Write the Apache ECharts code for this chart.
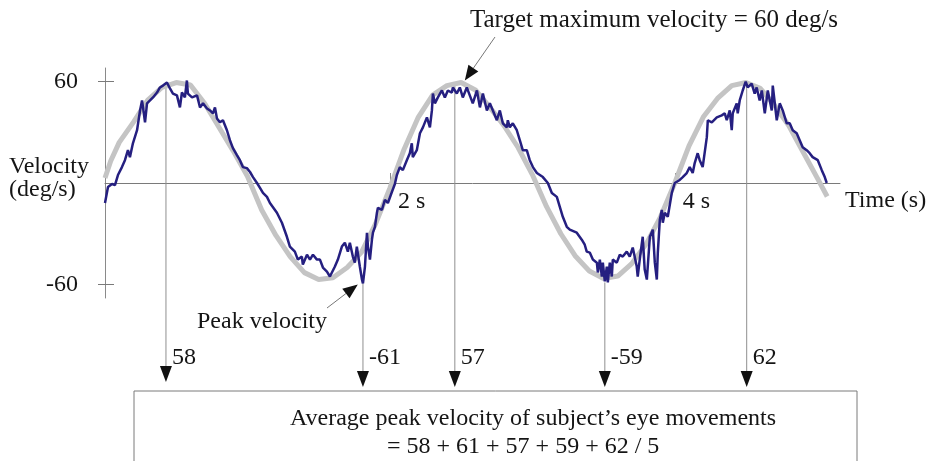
<!DOCTYPE html>
<html>
<head>
<meta charset="utf-8">
<script src="https://cdn.jsdelivr.net/npm/echarts@6/dist/echarts.min.js"></script>
<style>
  html, body { margin: 0; padding: 0; background: #fff; }
  #chart { width: 928px; height: 461px; }
</style>
</head>
<body>
<div id="chart"></div>
<script>
// target (gray) sine, read every 0.1 s
const targetTime = [0, 0.04, 0.1, 0.2, 0.3, 0.4, 0.5, 0.6, 0.7, 0.8, 0.9,
  1.0, 1.1, 1.2, 1.3, 1.4, 1.5, 1.6, 1.7, 1.8, 1.9,
  2.0, 2.1, 2.2, 2.3, 2.4, 2.5, 2.6, 2.7, 2.8, 2.9,
  3.0, 3.1, 3.2, 3.3, 3.4, 3.5, 3.6, 3.7, 3.8, 3.9,
  4.0, 4.1, 4.2, 4.3, 4.4, 4.5, 4.6, 4.7, 4.8, 4.9, 5.0, 5.07];
const targetVelocity = [3, 13, 24, 36, 49, 56.5, 59.4, 58, 47, 33, 19,
  4, -16, -31, -43.5, -53, -57, -56, -50, -41, -24,
  -3, 20, 39, 52, 57.6, 59.4, 55, 45, 34, 21,
  5, -14, -30, -43, -52, -56.5, -55, -47.5, -36, -20,
  0, 22, 39, 50, 57.6, 59.4, 56, 46, 34, 18.5, 3, -8];

// subject's eye velocity (blue trace)
const eyeTime = [
  0, 0.021, 0.049, 0.070, 0.091, 0.119, 0.140, 0.161, 0.175, 0.196,
  0.225, 0.246, 0.260, 0.267, 0.281, 0.295, 0.316, 0.337, 0.365, 0.386,
  0.407, 0.435, 0.456, 0.477, 0.505, 0.526, 0.540, 0.561, 0.575, 0.582,
  0.611, 0.646, 0.667, 0.688, 0.716, 0.737, 0.758, 0.772, 0.786, 0.807,
  0.828, 0.856, 0.877, 0.898, 0.926, 0.947, 0.968, 0.996, 1.018, 1.039,
  1.067, 1.088, 1.109, 1.137, 1.158, 1.207, 1.242, 1.277, 1.298, 1.333,
  1.354, 1.382, 1.389, 1.418, 1.439, 1.460, 1.488, 1.509, 1.530, 1.558,
  1.579, 1.593, 1.614, 1.635, 1.663, 1.684, 1.705, 1.719, 1.740, 1.754,
  1.768, 1.789, 1.804, 1.811, 1.825, 1.839, 1.846, 1.860, 1.874, 1.881,
  1.895, 1.909, 1.916, 1.944, 1.965, 1.986, 2.014, 2.035, 2.049, 2.070,
  2.091, 2.119, 2.140, 2.154, 2.161, 2.189, 2.211, 2.232, 2.260, 2.281,
  2.295, 2.302, 2.316, 2.337, 2.365, 2.386, 2.407, 2.435, 2.442, 2.470,
  2.491, 2.512, 2.540, 2.561, 2.582, 2.611, 2.632, 2.653, 2.681, 2.702,
  2.723, 2.751, 2.772, 2.793, 2.821, 2.828, 2.842, 2.863, 2.891, 2.912,
  2.933, 2.961, 2.982, 3.004, 3.032, 3.074, 3.109, 3.137, 3.172, 3.193,
  3.214, 3.242, 3.263, 3.312, 3.347, 3.368, 3.382, 3.404, 3.425, 3.453,
  3.460, 3.474, 3.488, 3.495, 3.509, 3.523, 3.530, 3.544, 3.558, 3.565,
  3.593, 3.614, 3.635, 3.663, 3.684, 3.705, 3.733, 3.740, 3.754, 3.775,
  3.789, 3.804, 3.825, 3.846, 3.860, 3.874, 3.881, 3.895, 3.909, 3.916,
  3.930, 3.951, 3.979, 4.000, 4.035, 4.056, 4.084, 4.105, 4.126, 4.140,
  4.161, 4.175, 4.196, 4.225, 4.232, 4.260, 4.295, 4.330, 4.351, 4.365,
  4.386, 4.400, 4.407, 4.435, 4.442, 4.456, 4.477, 4.498, 4.512, 4.540,
  4.561, 4.575, 4.596, 4.611, 4.632, 4.653, 4.681, 4.688, 4.716, 4.737,
  4.758, 4.786, 4.807, 4.828, 4.856, 4.877, 4.898, 4.926, 4.947, 4.968,
  5.004, 5.032, 5.053, 5.067];
const eyeVelocity = [
  -11.8, -2.4, -0.6, -1.2, 4.7, 9.4, 13.5, 19.4, 15.3, 23.5,
  31.2, 42.9, 48.8, 44.7, 35.9, 47.1, 48.8, 50.6, 53.5, 56.5,
  57.6, 59.4, 55.9, 52.9, 51.8, 44.7, 53.5, 50.6, 60.6, 52.9,
  50.6, 51.8, 44.7, 47.1, 44.1, 42.9, 41.2, 44.7, 38.2, 35.9,
  37.1, 31.2, 25.3, 20.6, 16.5, 13.5, 9.4, 8.8, 6.5, 3.5,
  0, -2.9, -5.9, -8.2, -11.8, -17.6, -23.5, -31.8, -37.6, -40.6,
  -45.3, -43.5, -48.2, -42.4, -45.3, -42.4, -45.3, -45.3, -50, -52.4,
  -55.3, -52.9, -49.4, -45.3, -37.6, -35.3, -40.6, -35.3, -43.5, -47.1,
  -37.6, -49.4, -57.1, -59.4, -49.4, -29.4, -37.6, -45.3, -33.5, -29.4,
  -25.9, -17.6, -14.7, -15.9, -10, -11.8, -5.3, -0.6, 4.7, 9.4,
  7.6, 13.5, 17.6, 23.5, 15.3, 19.4, 29.4, 32.9, 38.8, 32.9,
  42.9, 52.9, 47.1, 50.6, 54.7, 50.6, 54.7, 53.5, 56.5, 52.9,
  56.5, 50.6, 56.5, 51.8, 47.1, 54.7, 44.7, 52.9, 42.9, 47.1,
  42.9, 37.1, 42.9, 35.3, 32.9, 37.1, 32.9, 35.3, 31.2, 25.3,
  19.4, 19.4, 13.5, 9.4, 5.9, 3.5, 0, -5.9, -8.2, -14.1,
  -20, -25.9, -27.6, -29.4, -33.5, -36.5, -40.6, -41.2, -45.3, -47.1,
  -52.9, -45.3, -55.3, -47.1, -58.2, -49.4, -58.8, -47.1, -55.3, -45.3,
  -47.1, -42.4, -43.5, -40.6, -43.5, -38.2, -49.4, -55.3, -45.3, -31.8,
  -51.2, -57.1, -31.8, -27.6, -47.1, -57.1, -41.2, -21.8, -15.9, -23.5,
  -17.6, -20, -5.9, 0, 1.8, 3.5, 5.9, 9.4, 5.9, 11.8,
  17.6, 13.5, 9.4, 27.1, 37.1, 35.9, 38.8, 40, 41.2, 37.1,
  42.9, 31.2, 41.2, 47.1, 41.2, 48.8, 54.7, 60, 56.5, 58.8,
  52.9, 56.5, 48.8, 54.7, 41.2, 54.7, 42.9, 57.6, 37.1, 47.1,
  42.9, 35.3, 35.3, 31.2, 29.4, 25.3, 21.2, 19.4, 17.6, 15.3,
  13.5, 7.6, 3.5, 0];

// peaks picked out by the arrows
const peakTime = [0.428, 1.811, 2.456, 3.509, 4.505];
const peakVelocity = [59, -59.4, 59, -58.8, 60];
const peakLabels = ['58', '-61', '57', '-59', '62'];

const yTicks = [-60, 60];
const xTicks = [2, 4];
const targetNote = [2.526, 60.6];
const peakNote = [1.775, -60];

const FONT = '24px "Liberation Serif"';
const INK = '#151515';

const chart = echarts.init(document.getElementById('chart'));

const option = {
  animation: false,
  backgroundColor: '#fff',
  grid: { left: 105, top: 68, width: 735, height: 230 },
  xAxis: {
    type: 'value',
    min: 0,
    max: 5.16,
    position: 'bottom',
    offset: -115,   // lift the axis up to v = 0
    axisLine: { onZero: false, lineStyle: { color: '#7a7a7a', width: 1 } },
    axisTick: { inside: true, length: 10, customValues: xTicks, lineStyle: { color: '#8a8a8a' } },
    axisLabel: {
      customValues: xTicks,
      formatter: v => v + ' s',
      align: 'left',
      padding: [0, 0, 0, 8],
      margin: 7,
      color: INK,
      fontFamily: 'Liberation Serif',
      fontSize: 24
    },
    splitLine: { show: false }
  },
  yAxis: [
    {
      type: 'value',
      min: -68,
      max: 68,
      axisLine: { show: true, lineStyle: { color: '#8a8a8a', width: 1 } },
      axisTick: { show: true, length: 7, customValues: yTicks, lineStyle: { color: '#7a7a7a' } },
      axisLabel: {
        customValues: yTicks,
        margin: 27,
        color: INK,
        fontFamily: 'Liberation Serif',
        fontSize: 24
      },
      splitLine: { show: false }
    },
    {
      type: 'value',
      min: -68,
      max: 68,
      position: 'left',
      axisLine: { show: false },
      axisTick: { show: true, inside: true, length: 9, customValues: yTicks, lineStyle: { color: '#7a7a7a' } },
      axisLabel: { show: false },
      splitLine: { show: false }
    }
  ],
  series: [
    {
      name: 'Peak lines',
      type: 'custom',
      clip: false,
      silent: true,
      z: 1,
      data: peakTime.map((t, i) => [t, peakVelocity[i]]),
      renderItem: function (params, api) {
        const p = api.coord([api.value(0), api.value(1)]);
        const tip = params.dataIndex === 0 ? 382 : 387;
        return {
          type: 'group',
          children: [
            { type: 'line', shape: { x1: p[0], y1: p[1], x2: p[0], y2: tip - 14 },
              style: { stroke: '#8f8f8f', lineWidth: 1 } },
            { type: 'polygon', shape: { points: [[p[0] - 6, tip - 16], [p[0] + 6, tip - 16], [p[0], tip]] },
              style: { fill: '#111' } },
            { type: 'text', x: p[0] + 6, y: 358,
              style: { text: peakLabels[params.dataIndex], font: FONT, fill: INK, verticalAlign: 'middle' } }
          ]
        };
      }
    },
    {
      name: 'Target',
      type: 'line',
      showSymbol: false,
      z: 2,
      lineStyle: { color: '#c4c4c4', width: 5 },
      data: targetTime.map((t, i) => [t, targetVelocity[i]])
    },
    {
      name: 'Eye',
      type: 'line',
      showSymbol: false,
      z: 3,
      lineStyle: { color: '#251f80', width: 2.5 },
      data: eyeTime.map((t, i) => [t, eyeVelocity[i]])
    }
  ]
};

chart.setOption(option);

function arrow(x1, y1, x2, y2) {
  const a = Math.atan2(y2 - y1, x2 - x1);
  const L = 15, W = 6;
  const bx = x2 - L * Math.cos(a), by = y2 - L * Math.sin(a);
  return [
    { type: 'line', shape: { x1: x1, y1: y1, x2: bx, y2: by }, style: { stroke: '#777', lineWidth: 1 } },
    { type: 'polygon', shape: { points: [[x2, y2],
        [bx - W * Math.sin(a), by + W * Math.cos(a)],
        [bx + W * Math.sin(a), by - W * Math.cos(a)]] }, style: { fill: '#111' } }
  ];
}

function label(text, x, y, font) {
  return { type: 'text', x: x, y: y,
    style: { text: text, font: font || FONT, fill: INK, verticalAlign: 'middle' } };
}

const tTip = chart.convertToPixel({ gridIndex: 0 }, targetNote);
const pTip = chart.convertToPixel({ gridIndex: 0 }, peakNote);

chart.setOption({
  graphic: [
    { type: 'rect', shape: { x: 134, y: 391, width: 723, height: 100 },
      style: { fill: 'none', stroke: '#7a7a7a', lineWidth: 1 } },
    label('Average peak velocity of subject\u2019s eye movements', 290, 419),
    label('= 58 + 61 + 57 + 59 + 62 / 5', 387, 447),
    label('Target maximum velocity = 60 deg/s', 470, 20, '25px "Liberation Serif"'),
    label('Peak velocity', 197, 322),
    label('Velocity', 9, 167),
    label('(deg/s)', 9, 190),
    label('Time (s)', 845, 201),
    ...arrow(495, 37, tTip[0], tTip[1]),
    ...arrow(327, 308, pTip[0], pTip[1])
  ]
});
</script>
</body>
</html>
